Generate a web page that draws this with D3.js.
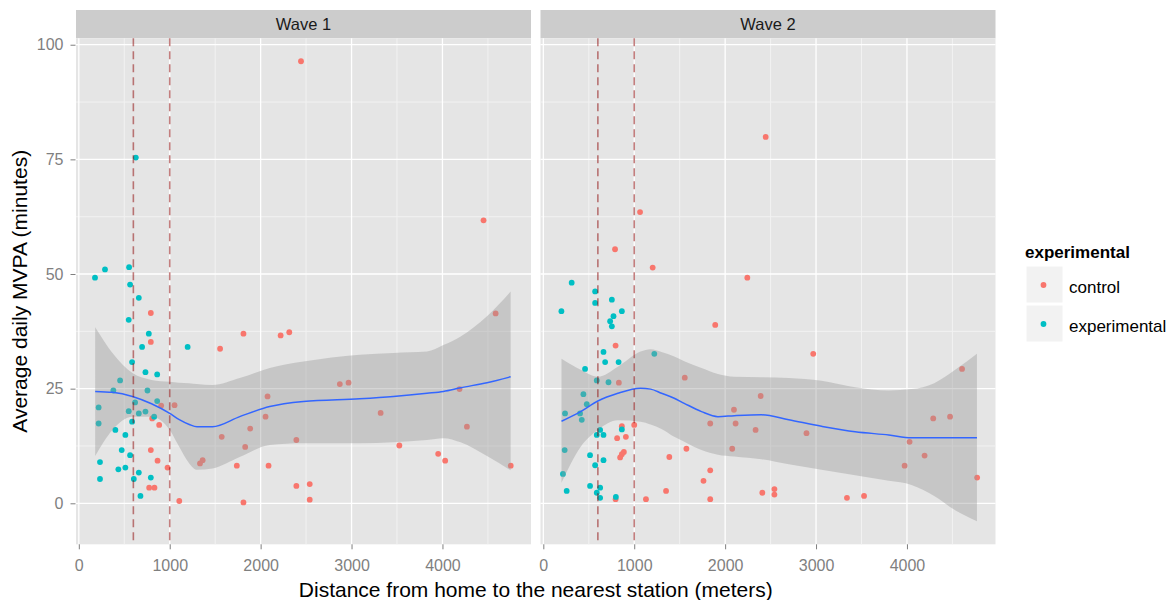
<!DOCTYPE html>
<html>
<head>
<meta charset="utf-8">
<script src="https://cdn.jsdelivr.net/npm/d3@7"></script>
<style>
body { margin: 0; background: #fff; }
text { font-family: "Liberation Sans", Arial, sans-serif; }
</style>
</head>
<body>
<div id="chart"></div>
<script>
// values: [distance, minutes]
var waves = ["Wave 1", "Wave 2"];
var groups = ["control", "experimental"];
var groupColors = ["#F8766D", "#00BFC4"];
var xTicks = [0, 1000, 2000, 3000, 4000];
var xMinor = [500, 1500, 2500, 3500, 4500];
var yTicks = [0, 25, 50, 75, 100];
var yMinor = [12.5, 37.5, 62.5, 87.5];
var cutoffs = [600, 1000];

var wave1Control = [
    [792, 41.5], [792, 35.2], [1811, 37.0], [1554, 33.7], [906, 21.3], [1053, 21.4],
    [807, 18.5], [884, 17.1], [2076, 23.3], [2054, 18.9], [1885, 16.3], [1572, 14.5],
    [1830, 12.3], [792, 11.6], [866, 9.3], [1362, 9.4], [1333, 8.7], [976, 7.8],
    [1738, 8.2], [2087, 8.2], [774, 3.4], [832, 3.4], [1105, 0.5], [1811, 0.2],
    [2444, 96.4], [4452, 61.7], [4585, 41.4], [2220, 36.6], [2315, 37.3], [2871, 26.0],
    [2967, 26.3], [2393, 13.8], [3320, 19.7], [4188, 24.9], [4269, 16.7], [3526, 12.6],
    [3953, 10.8], [4030, 9.3], [4751, 8.2], [2393, 3.8], [2540, 4.2], [2540, 0.8]
];
var wave1Experimental = [
    [627, 75.4], [178, 49.2], [288, 51.0], [553, 51.5], [564, 47.7], [660, 44.8],
    [549, 40.0], [770, 37.0], [696, 34.1], [1197, 34.1], [586, 30.8], [733, 28.6],
    [862, 28.1], [454, 26.8], [380, 24.6], [755, 24.6], [862, 22.3], [218, 20.9],
    [549, 20.1], [660, 19.6], [733, 20.0], [829, 18.9], [586, 17.8], [218, 17.4],
    [402, 16.0], [512, 14.9], [472, 11.6], [564, 10.5], [233, 9.0], [435, 7.4],
    [512, 7.8], [660, 6.7], [233, 5.3], [605, 5.3], [792, 5.6], [678, 1.6], [619, 22.0]
];
var wave2Control = [
    [1203, 51.4], [1891, 38.9], [795, 34.4], [831, 26.3], [1556, 27.4], [2097, 20.4],
    [1836, 17.4], [2115, 17.4], [864, 16.8], [1000, 17.1], [812, 14.2], [908, 14.5],
    [1574, 11.9], [2078, 11.9], [886, 11.2], [864, 10.7], [845, 10.0], [1386, 10.1],
    [1836, 7.2], [1762, 4.9], [1350, 2.7], [795, 0.9], [1129, 0.9], [1836, 0.9],
    [2446, 79.9], [2244, 49.2], [2969, 32.6], [4606, 29.3], [2391, 23.4], [2335, 16.0],
    [2895, 15.3], [4289, 18.5], [4474, 18.9], [4029, 13.4], [4194, 10.4], [3974, 8.2],
    [4772, 5.6], [2409, 2.3], [2542, 3.1], [2542, 1.9], [3340, 1.2], [3528, 1.6],
    [1064, 63.5], [789, 55.4]
];
var wave2Experimental = [
    [312, 48.1], [570, 46.2], [570, 43.7], [754, 44.4], [199, 41.9], [864, 41.9],
    [772, 40.8], [735, 39.7], [754, 38.6], [662, 33.0], [680, 30.8], [828, 30.8],
    [459, 29.3], [1221, 32.6], [588, 26.8], [717, 26.4], [441, 23.8], [478, 21.6],
    [239, 19.6], [404, 19.6], [423, 18.2], [625, 16.0], [588, 14.9], [662, 14.9],
    [864, 16.1], [235, 11.6], [514, 10.5], [662, 9.4], [570, 8.3], [216, 6.4],
    [257, 2.7], [514, 3.8], [625, 3.4], [588, 2.3], [625, 1.2], [798, 1.4]
];

// loess fit: [distance, fit, lower, upper]
var wave1Smooth = [
    [180, 24.4, 10.3, 38.4], [370, 24.2, 16.0, 32.8], [590, 23.3, 18.9, 28.4],
    [800, 21.7, 18.9, 26.9], [1000, 19.6, 16.0, 26.5], [1100, 18.3, 12.5, 26.3],
    [1215, 17.2, 8.7, 26.2], [1300, 16.7, 7.3, 26.0], [1470, 16.7, 7.6, 25.8],
    [1770, 18.9, 10.1, 27.3], [2100, 21.1, 12.7, 29.5], [2470, 22.2, 13.1, 30.9],
    [3090, 22.8, 13.1, 32.4], [3460, 23.3, 13.3, 32.8], [3830, 24.0, 13.8, 33.1],
    [4010, 24.4, 14.2, 34.5], [4200, 25.2, 13.3, 36.4], [4490, 26.3, 10.3, 40.8],
    [4750, 27.6, 7.2, 46.2]
];
var wave2Smooth = [
    [200, 17.9, 4.5, 31.5], [410, 20.0, 12.3, 29.1], [600, 22.3, 16.0, 27.6],
    [820, 24.0, 18.1, 29.8], [1070, 25.1, 17.8, 33.1], [1180, 24.9, 17.2, 33.6],
    [1300, 24.0, 16.2, 33.0], [1440, 22.9, 14.5, 32.0], [1550, 21.8, 13.4, 31.0],
    [1740, 20.0, 11.6, 29.5], [1920, 18.9, 10.6, 28.2], [2100, 19.1, 10.2, 27.6],
    [2400, 19.3, 9.6, 27.5], [2700, 18.2, 8.5, 27.3], [3060, 16.8, 7.3, 26.7],
    [3430, 15.6, 6.1, 25.3], [3800, 14.9, 4.9, 24.6], [4050, 14.3, 4.0, 24.9],
    [4300, 14.3, 1.6, 26.2], [4530, 14.3, -1.5, 29.1], [4770, 14.3, -3.9, 32.6]
];

var panelData = [
    { control: wave1Control, experimental: wave1Experimental, smooth: wave1Smooth },
    { control: wave2Control, experimental: wave2Experimental, smooth: wave2Smooth }
];

var width = 1173;
var height = 600;
var stripTop = 10;
var panelTop = 38.3;
var panelBottom = 544.3;
var panelW = 455;
var panelLefts = [76, 540.5];

var svg = d3.select("#chart").append("svg")
    .attr("width", width)
    .attr("height", height);

var y = d3.scaleLinear()
    .domain([-8.94, 101.4])
    .range([panelBottom, panelTop]);

panelData.forEach(function (p, i) {
    var left = panelLefts[i];
    var x = d3.scaleLinear()
        .domain([-31, 4974])
        .range([left, left + panelW]);

    var g = svg.append("g");

    // strip
    g.append("rect")
        .attr("x", left).attr("y", stripTop)
        .attr("width", panelW).attr("height", panelTop - stripTop)
        .attr("fill", "#cccccc");
    g.append("text")
        .attr("x", left + panelW / 2)
        .attr("y", (stripTop + panelTop) / 2)
        .attr("dy", "0.35em")
        .attr("text-anchor", "middle")
        .attr("font-size", 16.5)
        .attr("fill", "#1a1a1a")
        .text(waves[i]);

    // panel background + grid
    g.append("rect")
        .attr("x", left).attr("y", panelTop)
        .attr("width", panelW).attr("height", panelBottom - panelTop)
        .attr("fill", "#e5e5e5");

    g.append("g")
        .attr("stroke", "#f2f2f2")
        .attr("stroke-width", 1)
        .call(s => s.selectAll("line.xm").data(xMinor).join("line")
            .attr("x1", d => x(d)).attr("x2", d => x(d))
            .attr("y1", panelTop).attr("y2", panelBottom))
        .call(s => s.selectAll("line.ym").data(yMinor).join("line")
            .attr("x1", left).attr("x2", left + panelW)
            .attr("y1", d => y(d)).attr("y2", d => y(d)));

    var major = g.append("g")
        .attr("stroke", "#ffffff")
        .attr("stroke-width", 1.3);
    major.selectAll("line.x").data(xTicks).join("line")
        .attr("class", "x")
        .attr("x1", d => x(d)).attr("x2", d => x(d))
        .attr("y1", panelTop).attr("y2", panelBottom);
    major.selectAll("line.y").data(yTicks).join("line")
        .attr("class", "y")
        .attr("x1", left).attr("x2", left + panelW)
        .attr("y1", d => y(d)).attr("y2", d => y(d));

    // points
    groups.forEach(function (grp, k) {
        g.append("g")
            .attr("fill", groupColors[k])
            .selectAll("circle")
            .data(p[grp])
            .join("circle")
            .attr("cx", d => x(d[0]))
            .attr("cy", d => y(d[1]))
            .attr("r", 2.9);
    });

    // smooth ribbon + line
    var area = d3.area()
        .curve(d3.curveMonotoneX)
        .x(d => x(d[0]))
        .y0(d => y(d[2]))
        .y1(d => y(d[3]));
    g.append("path")
        .datum(p.smooth)
        .attr("d", area)
        .attr("fill", "#999999")
        .attr("fill-opacity", 0.4);

    var line = d3.line()
        .curve(d3.curveMonotoneX)
        .x(d => x(d[0]))
        .y(d => y(d[1]));
    g.append("path")
        .datum(p.smooth)
        .attr("d", line)
        .attr("fill", "none")
        .attr("stroke", "#3366FF")
        .attr("stroke-width", 1.5);

    // cutoff lines
    g.append("g")
        .selectAll("line")
        .data(cutoffs)
        .join("line")
        .attr("x1", d => x(d)).attr("x2", d => x(d))
        .attr("y1", panelTop).attr("y2", panelBottom)
        .attr("stroke", "#8b0000")
        .attr("stroke-opacity", 0.5)
        .attr("stroke-width", 1.6)
        .attr("stroke-dasharray", "8,5");

    // x axis
    var xAxis = g.append("g")
        .attr("transform", `translate(0,${panelBottom})`)
        .call(d3.axisBottom(x).tickValues(xTicks).tickSize(5).tickPadding(10).tickFormat(d3.format("d")));
    xAxis.select(".domain").remove();
    xAxis.selectAll("line").attr("stroke", "#7f7f7f");
    xAxis.selectAll("text")
        .attr("fill", "#7f7f7f")
        .attr("font-size", 16)
        .attr("font-family", "Liberation Sans, Arial, sans-serif");

    if (i === 0) {
        var yAxis = g.append("g")
            .attr("transform", `translate(${left - 0.5},0)`)
            .call(d3.axisLeft(y).tickValues(yTicks).tickSize(5).tickPadding(7));
        yAxis.select(".domain").remove();
        yAxis.selectAll("line").attr("stroke", "#7f7f7f");
        yAxis.selectAll("text")
            .attr("fill", "#7f7f7f")
            .attr("font-size", 16)
            .attr("font-family", "Liberation Sans, Arial, sans-serif");
    }
});

// axis titles
svg.append("text")
    .attr("x", (panelLefts[0] + panelLefts[1] + panelW) / 2)
    .attr("y", 597)
    .attr("text-anchor", "middle")
    .attr("font-size", 21)
    .attr("fill", "#000")
    .text("Distance from home to the nearest station (meters)");

svg.append("text")
    .attr("transform", `translate(27,${(panelTop + panelBottom) / 2}) rotate(-90)`)
    .attr("text-anchor", "middle")
    .attr("font-size", 21)
    .attr("fill", "#000")
    .text("Average daily MVPA (minutes)");

// legend
var legend = svg.append("g").attr("transform", "translate(1025,0)");
legend.append("text")
    .attr("x", 0).attr("y", 258)
    .attr("font-size", 17)
    .attr("font-weight", "bold")
    .text("experimental");
groups.forEach(function (grp, k) {
    var top = 266 + k * 39;
    legend.append("rect")
        .attr("x", 1).attr("y", top)
        .attr("width", 37).attr("height", 37)
        .attr("fill", "#f2f2f2")
        .attr("stroke", "#ffffff");
    legend.append("circle")
        .attr("cx", 18.5).attr("cy", top + 19)
        .attr("r", 2.9)
        .attr("fill", groupColors[k]);
    legend.append("text")
        .attr("x", 44).attr("y", top + 21.5)
        .attr("dy", "0.35em")
        .attr("font-size", 17)
        .text(grp);
});
</script>
</body>
</html>
